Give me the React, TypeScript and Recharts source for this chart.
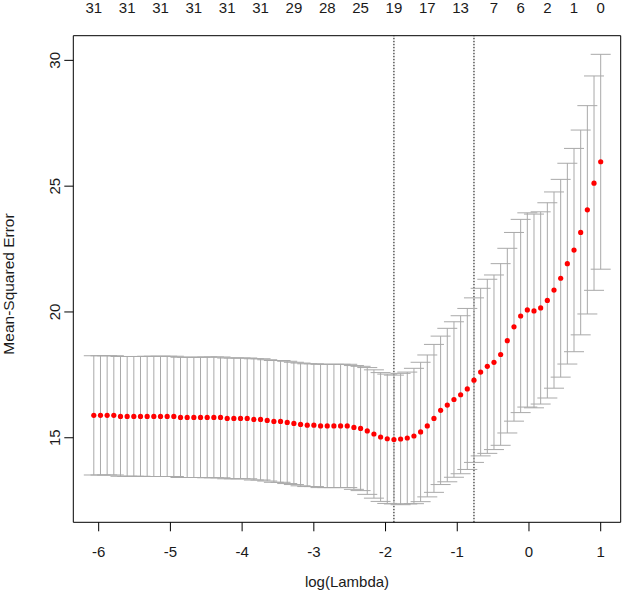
import React from 'react';
import {
  ComposedChart,
  Scatter,
  XAxis,
  YAxis,
  ErrorBar,
  ReferenceLine,
  ReferenceArea,
  Label,
} from 'recharts';

// log(lambda) for each fitted lambda (largest lambda first)
const logLambda = [
  1.0, 0.907, 0.814, 0.721, 0.628, 0.535, 0.442, 0.349, 0.256, 0.163,
  0.07, -0.023, -0.116, -0.209, -0.302, -0.395, -0.488, -0.581, -0.674, -0.767,
  -0.86, -0.953, -1.046, -1.139, -1.232, -1.325, -1.418, -1.511, -1.604, -1.697,
  -1.79, -1.883, -1.976, -2.069, -2.162, -2.255, -2.348, -2.441, -2.534, -2.627,
  -2.72, -2.813, -2.906, -2.999, -3.092, -3.185, -3.278, -3.371, -3.464, -3.557,
  -3.65, -3.743, -3.836, -3.929, -4.022, -4.115, -4.208, -4.301, -4.394, -4.487,
  -4.58, -4.673, -4.766, -4.859, -4.952, -5.045, -5.138, -5.231, -5.324, -5.417,
  -5.51, -5.603, -5.696, -5.789, -5.882, -5.975, -6.068,
];

// cross-validated mean squared error
const cvMean = [
  25.97, 25.12, 24.06, 23.16, 22.46, 21.92, 21.34, 20.87, 20.46, 20.16,
  20.04, 20.08, 19.84, 19.41, 18.86, 18.31, 18.0, 17.84, 17.61, 17.29,
  16.94, 16.71, 16.52, 16.3, 16.09, 15.77, 15.47, 15.23, 15.07, 14.99,
  14.95, 14.93, 14.96, 15.03, 15.15, 15.27, 15.37, 15.41, 15.47, 15.47,
  15.47, 15.47, 15.47, 15.5, 15.5, 15.53, 15.57, 15.61, 15.65, 15.65,
  15.69, 15.73, 15.73, 15.77, 15.77, 15.77, 15.77, 15.81, 15.81, 15.81,
  15.81, 15.81, 15.81, 15.81, 15.85, 15.85, 15.85, 15.85, 15.85, 15.85,
  15.85, 15.85, 15.85, 15.89, 15.89, 15.89, 15.89,
];

// standard error of the CV estimate (error bar half-length)
const cvSd = [
  4.27, 4.26, 4.14, 4.07, 4.04, 3.99, 3.93, 3.9, 3.88, 3.82,
  3.85, 3.86, 3.84, 3.75, 3.67, 3.61, 3.47, 3.46, 3.33, 3.27,
  3.2, 3.14, 3.09, 3.05, 2.95, 2.94, 2.82, 2.77, 2.69, 2.62,
  2.61, 2.56, 2.57, 2.56, 2.55, 2.52, 2.47, 2.46, 2.45, 2.45,
  2.45, 2.45, 2.45, 2.44, 2.44, 2.44, 2.43, 2.43, 2.42, 2.42,
  2.41, 2.41, 2.41, 2.4, 2.4, 2.4, 2.4, 2.4, 2.4, 2.4,
  2.39, 2.39, 2.39, 2.39, 2.39, 2.39, 2.39, 2.39, 2.39, 2.38,
  2.38, 2.38, 2.38, 2.37, 2.37, 2.37, 2.37,
];

// number of non-zero coefficients shown on the top axis
const nzeroAt = [
  -6.068, -5.603, -5.138, -4.673, -4.208, -3.743, -3.278, -2.813, -2.348,
  -1.883, -1.418, -0.953, -0.488, -0.116, 0.256, 0.628, 1.0,
];
const nzeroLabels = [
  '31', '31', '31', '31', '31', '31', '29', '28', '25',
  '19', '17', '13', '7', '6', '2', '1', '0',
];

const xTicks = [-6, -5, -4, -3, -2, -1, 0, 1];
const yTicks = [15, 20, 25, 30];

const lambdaMin = -1.883;
const lambda1se = -0.767;

const xDomain: [number, number] = [-6.354, 1.279];
const yDomain: [number, number] = [11.64, 30.98];

const data = logLambda.map((x, i) => ({ x, mse: cvMean[i], sd: cvSd[i] }));

const FONT = 'Liberation Sans, Arial, sans-serif';
const TEXT = '#1a1a1a';

const BottomTick = (props: any) => {
  const { x, y, payload } = props;
  return (
    <text x={x} y={y + 25.4} textAnchor="middle" fontSize={15} fontFamily={FONT} fill={TEXT}>
      {payload.value}
    </text>
  );
};

const LeftTick = (props: any) => {
  const { x, y, payload } = props;
  const bx = x - 4.6;
  return (
    <text
      x={bx}
      y={y}
      transform={`rotate(-90 ${bx} ${y})`}
      textAnchor="middle"
      fontSize={15}
      fontFamily={FONT}
      fill={TEXT}
    >
      {payload.value}
    </text>
  );
};

const TopTick = (props: any) => {
  const { x, y, payload, index } = props;
  let k = nzeroAt.indexOf(payload.value);
  if (k < 0) k = index;
  return (
    <text x={x} y={y - 22.4} textAnchor="middle" fontSize={15} fontFamily={FONT} fill={TEXT}>
      {nzeroLabels[k]}
    </text>
  );
};

const XTitle = (props: any) => {
  const vb = props.viewBox || { x: 73.3, y: 522.3, width: 547.4, height: 78.7 };
  return (
    <text x={vb.x + vb.width / 2} y={vb.y + 64.7} textAnchor="middle" fontSize={15} fontFamily={FONT} fill={TEXT}>
      log(Lambda)
    </text>
  );
};

const YTitle = () => {
  const bx = 14;
  const cy = 284;
  return (
    <text
      x={bx}
      y={cy}
      transform={`rotate(-90 ${bx} ${cy})`}
      textAnchor="middle"
      fontSize={15.5}
      fontFamily={FONT}
      fill={TEXT}
    >
      Mean-Squared Error
    </text>
  );
};

const Dot = (props: any) => {
  const { cx, cy } = props;
  return <circle cx={cx} cy={cy} r={2.6} fill="#ff0000" />;
};

const NoShape = () => <g />;

export default function App() {
  return (
    <div style={{ position: 'absolute', left: 0, top: 0, width: 625, height: 601, background: '#fff' }}>
      <ComposedChart
        width={625}
        height={601}
        data={data}
        margin={{ top: 0, right: 4.3, bottom: 0, left: 0 }}
      >
        <XAxis
          dataKey="x"
          type="number"
          domain={xDomain}
          ticks={xTicks}
          allowDataOverflow
          interval={0}
          height={78.7}
          axisLine={false}
          tickLine={{ stroke: '#000' }}
          tickSize={9}
          tickMargin={0}
          tick={BottomTick}
        >
          <Label content={XTitle} />
        </XAxis>
        <XAxis
          xAxisId="top"
          dataKey="x"
          orientation="top"
          type="number"
          domain={xDomain}
          ticks={nzeroAt}
          allowDataOverflow
          interval={0}
          height={35.7}
          axisLine={false}
          tickLine={false}
          tickSize={0}
          tickMargin={0}
          tick={TopTick}
        />
        <YAxis
          dataKey="mse"
          type="number"
          domain={yDomain}
          ticks={yTicks}
          allowDataOverflow
          interval={0}
          width={73.3}
          axisLine={false}
          tickLine={{ stroke: '#000' }}
          tickSize={9}
          tickMargin={0}
          tick={LeftTick}
        >
          <Label content={YTitle} />
        </YAxis>
        <ReferenceArea
          x1={xDomain[0]}
          x2={xDomain[1]}
          y1={yDomain[0]}
          y2={yDomain[1]}
          fill="none"
          fillOpacity={0}
          stroke="#000"
          strokeWidth={1}
          ifOverflow="visible"
        />
        <ReferenceLine x={lambdaMin} stroke="#000" strokeDasharray="1.5 1.5" strokeWidth={1} />
        <ReferenceLine x={lambda1se} stroke="#000" strokeDasharray="1.5 1.5" strokeWidth={1} />
        <Scatter
          xAxisId="top"
          dataKey="mse"
          data={data}
          shape={NoShape}
          isAnimationActive={false}
          legendType="none"
        />
        <Scatter dataKey="mse" data={data} shape={Dot} isAnimationActive={false}>
          <ErrorBar dataKey="sd" direction="y" width={10} stroke="#a9a9a9" strokeWidth={1} isAnimationActive={false} />
        </Scatter>
      </ComposedChart>
    </div>
  );
}
